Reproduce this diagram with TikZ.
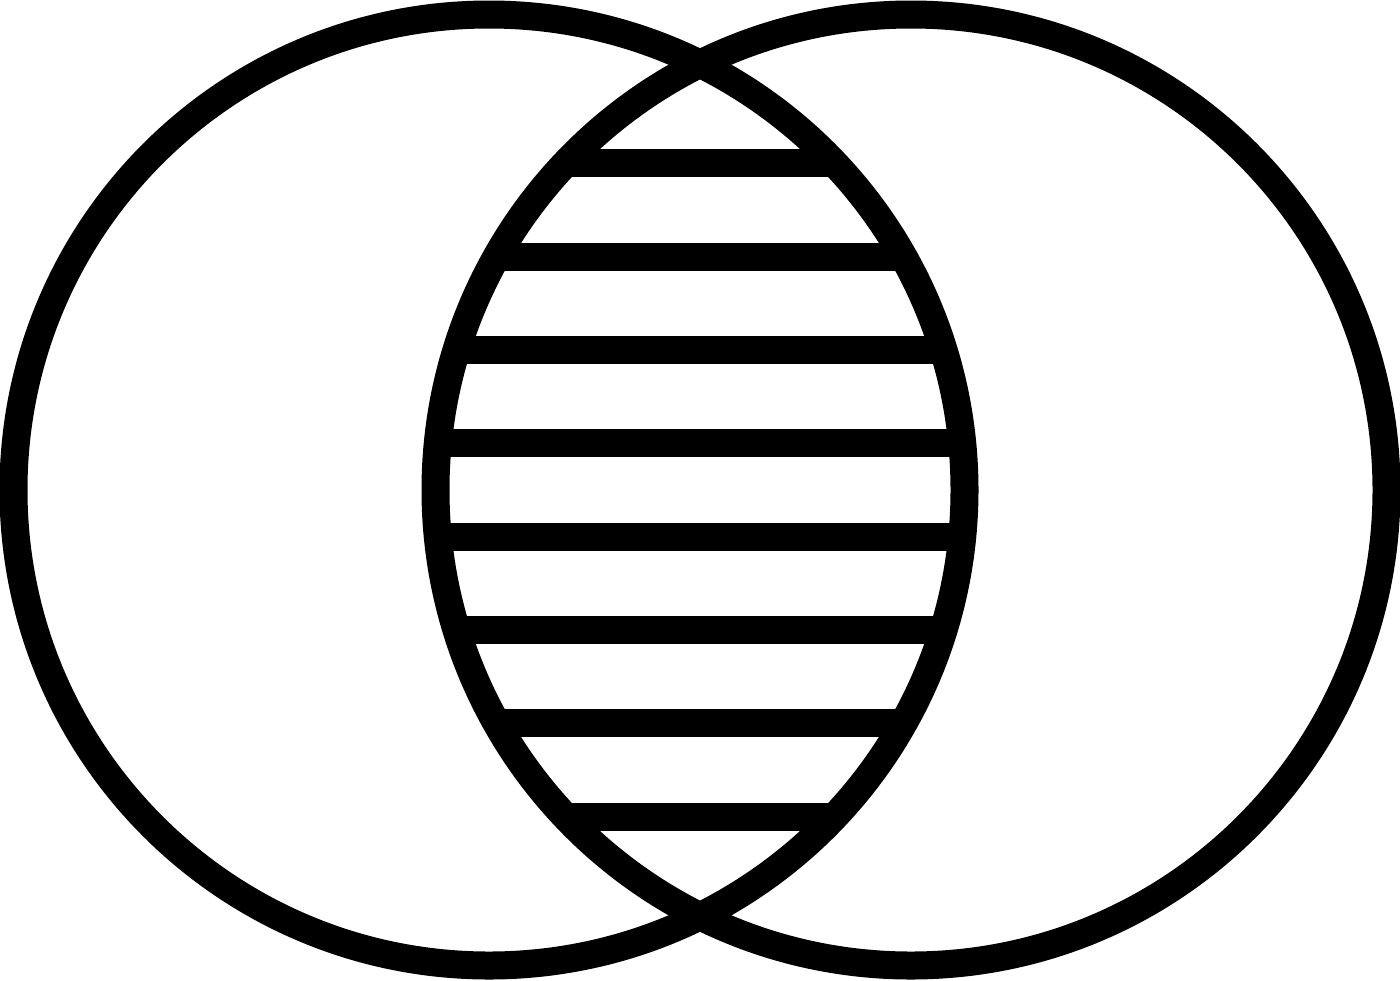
\documentclass[tikz,border=0pt]{standalone}
\usepackage{amsmath,tikz}
\usetikzlibrary{positioning}

\begin{document}
\begin{tikzpicture}
			\pgfmathsetmacro{\CircleRadius}{4.755}
			\pgfmathsetmacro{\CircleOffset}{4.89}
			\pgfmathsetmacro{\StripeGap}{0.9333}
			\pgfmathsetmacro{\StrokeWidth}{0.28}
			\coordinate(LeftCenter) at (\CircleOffset,4.9);
			\coordinate(RightCenter) at (14-\CircleOffset,4.9);
			
			\useasboundingbox (0,0) rectangle (14,9.8);
			
			% stripes inside the lens
			\begin{scope}
				\clip (LeftCenter) circle (\CircleRadius);
				\clip (RightCenter) circle (\CircleRadius);
				\foreach \k in {-3.5,-2.5,...,3.5}
					\draw[line width=\StrokeWidth cm] (3.5,4.9+\k*\StripeGap) -- (10.5,4.9+\k*\StripeGap);
			\end{scope}
			
			\draw[line width=\StrokeWidth cm] (LeftCenter) circle (\CircleRadius);
			\draw[line width=\StrokeWidth cm] (RightCenter) circle (\CircleRadius);
		\end{tikzpicture}
\end{document}
